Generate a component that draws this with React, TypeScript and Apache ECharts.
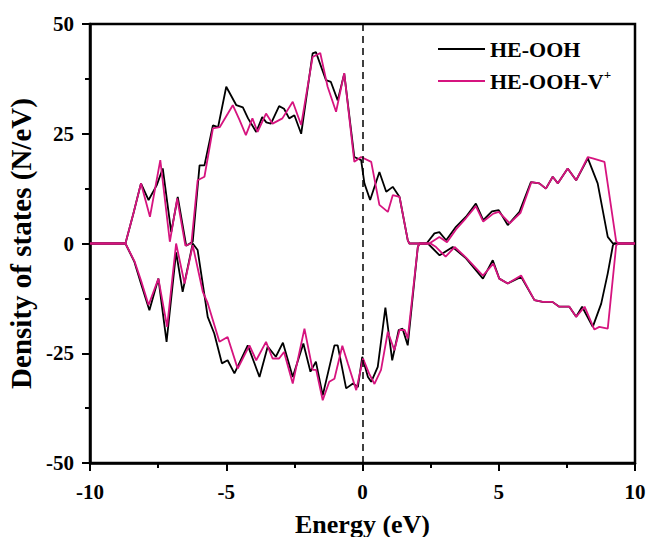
import React, { useEffect, useRef } from "react";
import * as echarts from "echarts";

const heOohUp: number[][] = [
  [-10, 0], [-8.7, 0], [-8.4, 7], [-8.13, 13.7], [-7.85, 9.9], [-7.55, 13.3], [-7.33, 17.1],
  [-7.02, 2.6], [-6.78, 10.6], [-6.47, -0.5], [-6.23, 0.4], [-5.98, 17.8], [-5.8, 17.8],
  [-5.49, 26.9], [-5.3, 26.5], [-5.0, 35.7], [-4.63, 31.5], [-4.39, 31], [-4.2, 28.5],
  [-3.9, 25.4], [-3.68, 28.8], [-3.53, 27.6], [-3.36, 27.3], [-3.06, 31.3], [-2.88, 30.7],
  [-2.69, 28.5], [-2.5, 29.2], [-2.25, 25], [-1.83, 43.3], [-1.71, 43.6], [-1.34, 37.2],
  [-1.16, 36.8], [-0.91, 32.6], [-0.67, 38.7], [-0.3, 19.7], [-0.05, 19], [0.07, 13.7],
  [0.28, 9.9], [0.62, 16.3], [0.87, 11.8], [1.11, 12.9], [1.36, 10.6], [1.66, 0.75], [1.72, 0],
  [2.35, 0], [2.64, 2.3], [2.82, 2.6], [3.07, 0.75], [3.43, 3.8], [3.8, 6.1], [4.16, 9.1],
  [4.43, 5.3], [4.75, 7.3], [5.0, 7.6], [5.33, 4.2], [5.76, 7.2], [6.18, 14], [6.49, 13.7],
  [6.73, 12.5], [6.98, 15.2], [7.17, 13.7], [7.53, 17.1], [7.84, 14.4], [8.27, 19.4],
  [8.63, 13.7], [9.0, 1.5], [9.19, 0], [10, 0],
];

const heOohVUp: number[][] = [
  [-10, 0], [-8.7, 0], [-8.4, 7], [-8.13, 13.7], [-7.8, 6.1], [-7.42, 19], [-7.07, 0.4],
  [-6.8, 10.3], [-6.5, -0.5], [-6.28, 0], [-6.05, 14.4], [-5.8, 15.2], [-5.49, 26.2],
  [-5.24, 26.5], [-4.94, 29.6], [-4.76, 31.5], [-4.51, 28.1], [-4.28, 24.7], [-4.04, 28.5],
  [-3.85, 25.4], [-3.54, 29.6], [-3.3, 27.3], [-2.94, 28.5], [-2.56, 32.3], [-2.25, 27],
  [-1.83, 42.5], [-1.55, 43.4], [-1.28, 35.7], [-0.97, 30], [-0.67, 38.8], [-0.3, 18.6],
  [-0.05, 19.7], [0.32, 18.6], [0.62, 8.8], [0.93, 7.2], [1.11, 11], [1.36, 10.6],
  [1.66, 0.75], [1.72, 0], [2.45, 0], [2.82, 1.5], [3.1, 0.3], [3.43, 3.2], [3.8, 5.8],
  [4.16, 8.5], [4.43, 5], [4.8, 6.8], [5.0, 7.2], [5.4, 4.6], [5.8, 7.0], [6.2, 14],
  [6.49, 13.7], [6.73, 12.5], [6.98, 15.2], [7.17, 13.7], [7.53, 17.1], [7.84, 14.4],
  [8.27, 19.7], [8.45, 19.4], [8.88, 18.6], [9.31, 0.4], [9.43, 0], [10, 0],
];

const heOohDown: number[][] = [
  [-10, 0], [-8.7, 0], [-8.37, -4.2], [-8.13, -9.1], [-7.82, -15.2], [-7.49, -8], [-7.19, -22.4],
  [-6.84, -2], [-6.6, -11], [-6.23, 0], [-6.05, -1.5], [-5.68, -16.7], [-5.44, -20.5],
  [-5.16, -27.3], [-4.95, -26.6], [-4.7, -29.6], [-4.21, -23.2], [-3.78, -30.4], [-3.48, -23.5],
  [-3.18, -25.8], [-2.92, -22.6], [-2.56, -30.4], [-2.17, -22.8], [-1.91, -29.2], [-1.71, -26.9],
  [-1.46, -34.6], [-1.03, -23.2], [-0.91, -23.2], [-0.6, -33], [-0.35, -31.9], [-0.17, -32.7],
  [-0.01, -25.8], [0.2, -30.4], [0.32, -31.5], [0.56, -28.1], [0.84, -14.6], [1.09, -26.6],
  [1.33, -19.7], [1.47, -19.4], [1.66, -23.2], [2.03, -0.8], [2.09, 0], [2.4, 0], [2.83, -2.7],
  [3.31, -0.8], [3.8, -3.4], [4.42, -8], [4.78, -3.8], [5.02, -8], [5.33, -9.1], [5.82, -7.6],
  [6.31, -12.9], [6.61, -13.3], [6.97, -13.3], [7.22, -14.4], [7.59, -14.4], [7.84, -16.7],
  [8.06, -14.4], [8.45, -19], [8.76, -13.7], [9.0, -6.8], [9.19, -0.4], [9.25, 0], [10, 0],
];

const heOohVDown: number[][] = [
  [-10, 0], [-8.7, 0], [-8.37, -4], [-8.13, -8.4], [-7.85, -14], [-7.49, -8], [-7.17, -19],
  [-6.84, 0], [-6.53, -9.1], [-6.23, -0.4], [-5.86, -11], [-5.68, -13.6], [-5.25, -22.4],
  [-4.95, -21.3], [-4.58, -28.5], [-4.15, -23.2], [-3.9, -26.6], [-3.54, -22.4], [-3.3, -26.2],
  [-3.06, -26.2], [-2.88, -24.7], [-2.56, -31.9], [-2.13, -19.4], [-1.83, -28.8], [-1.7, -28.8],
  [-1.46, -35.7], [-1.22, -31.5], [-1.03, -30.8], [-0.74, -23.3], [-0.54, -27.3], [-0.23, -33.4],
  [0.02, -26.2], [0.24, -29.6], [0.44, -32], [0.68, -28.8], [0.93, -20.1], [1.17, -24.3],
  [1.36, -19.7], [1.55, -19.7], [1.66, -21.6], [2.03, -0.8], [2.09, 0], [2.5, 0], [2.7, -0.8],
  [3.05, -3], [3.38, -0.8], [3.8, -3.2], [4.42, -7.3], [4.8, -4.6], [5.02, -8], [5.33, -9.1],
  [5.82, -7.3], [6.31, -12.9], [6.61, -13.3], [6.97, -13.3], [7.22, -14.4], [7.59, -14.4],
  [7.84, -16.7], [8.15, -14.4], [8.51, -19.6], [8.69, -19], [9.0, -19.4], [9.31, -0.4],
  [9.4, 0], [10, 0],
];

const seriesNames = ["HE-OOH", "HE-OOH-V+"];
const seriesColors = ["#000000", "#d6147f"];
const xTitle = "Energy (eV)";
const yTitle = "Density of states (N/eV)";

const FONT = "'Liberation Serif', 'Times New Roman', serif";

export default function App() {
  const ref = useRef<HTMLDivElement>(null);
  useEffect(() => {
    if (!ref.current) return;
    const chart = echarts.init(ref.current, undefined, { renderer: "svg" });
    const lineSeries = (name: string, color: string, data: number[][], extra: any = {}) => ({
      type: "line",
      name,
      data,
      showSymbol: false,
      symbol: "none",
      lineStyle: { color, width: 1.8 },
      itemStyle: { color },
      z: 2,
      ...extra,
    });
    chart.setOption({
      animation: false,
      backgroundColor: "#ffffff",
      grid: {
        left: 90,
        right: 14,
        top: 24,
        bottom: 74,
        outerBoundsMode: "none",
        containLabel: false,
        show: true,
        borderColor: "#000",
        borderWidth: 2.5,
        backgroundColor: "transparent",
      },
      legend: {
        orient: "vertical",
        left: 438,
        top: 36,
        padding: 0,
        icon: "rect",
        itemWidth: 47,
        itemHeight: 2,
        itemGap: 6,
        data: seriesNames,
        formatter: (name: string) => (name === "HE-OOH-V+" ? "HE-OOH-V{sup|+}" : name),
        textStyle: {
          fontFamily: FONT,
          fontSize: 22,
          fontWeight: "bold",
          color: "#000",
          lineHeight: 26,
          rich: {
            sup: {
              fontFamily: FONT,
              fontSize: 13,
              fontWeight: "bold",
              color: "#000",
              verticalAlign: "top",
              lineHeight: 26,
            },
          },
        },
      },
      xAxis: {
        type: "value",
        min: -10,
        max: 10,
        interval: 5,
        name: xTitle,
        nameLocation: "middle",
        nameGap: 48,
        nameTextStyle: { fontFamily: FONT, fontSize: 26, fontWeight: "bold", color: "#000" },
        axisLine: { show: true, onZero: false, lineStyle: { color: "#000", width: 2.5 } },
        axisTick: { show: true, inside: false, length: 8, lineStyle: { color: "#000", width: 2 } },
        minorTick: { show: true, splitNumber: 2, length: 5, lineStyle: { color: "#000", width: 2 } },
        splitLine: { show: false },
        axisLabel: { fontFamily: FONT, fontSize: 21, fontWeight: "bold", color: "#000", margin: 18 },
      },
      yAxis: {
        type: "value",
        min: -50,
        max: 50,
        interval: 25,
        name: yTitle,
        nameLocation: "middle",
        nameRotate: 90,
        nameGap: 51,
        nameTextStyle: { fontFamily: FONT, fontSize: 29, fontWeight: "bold", color: "#000" },
        axisLine: { show: true, onZero: false, lineStyle: { color: "#000", width: 2.5 } },
        axisTick: { show: true, inside: false, length: 8, lineStyle: { color: "#000", width: 2 } },
        minorTick: { show: true, splitNumber: 2, length: 5, lineStyle: { color: "#000", width: 2 } },
        splitLine: { show: false },
        axisLabel: { fontFamily: FONT, fontSize: 21, fontWeight: "bold", color: "#000", margin: 16 },
      },
      series: [
        lineSeries(seriesNames[0], seriesColors[0], heOohUp, {
          markLine: {
            silent: true,
            symbol: ["none", "none"],
            label: { show: false },
            lineStyle: { color: "#000", type: [7, 5], width: 1.5 },
            data: [{ xAxis: 0 }],
          },
        }),
        lineSeries(seriesNames[0], seriesColors[0], heOohDown),
        lineSeries(seriesNames[1], seriesColors[1], heOohVUp),
        lineSeries(seriesNames[1], seriesColors[1], heOohVDown),
      ],
    });
    return () => chart.dispose();
  }, []);
  return (
    <div
      ref={ref}
      style={{ position: "fixed", left: 0, top: 0, width: 649, height: 537 }}
    />
  );
}
